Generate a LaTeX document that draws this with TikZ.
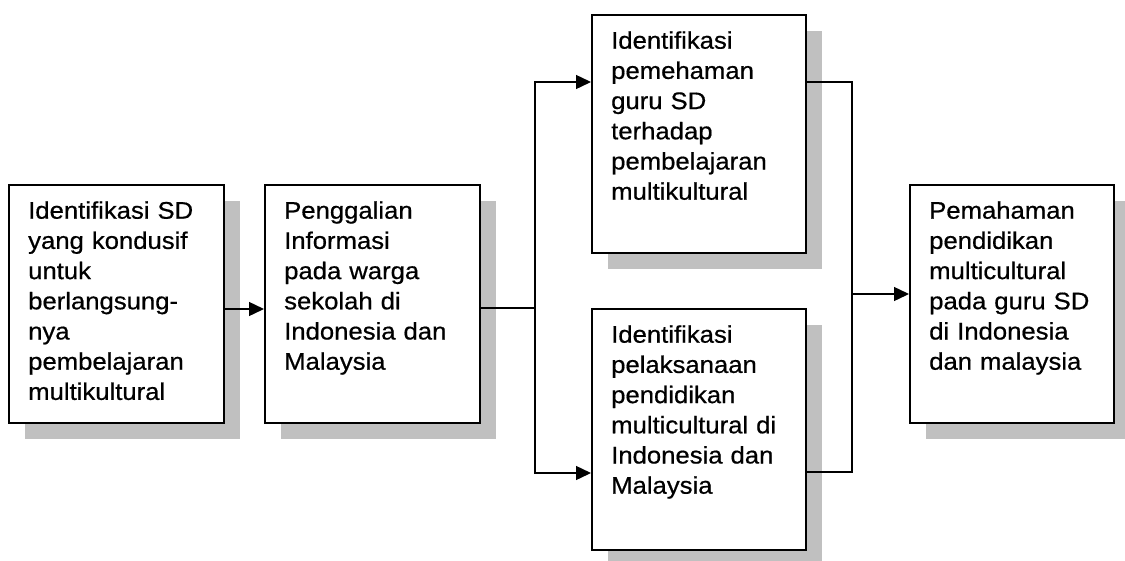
\documentclass[tikz,border=0pt]{standalone}
\usepackage{fontspec}
\setmainfont{Liberation Sans}[FakeStretch=1.07,FakeBold=0.6]
\usetikzlibrary{arrows.meta,shadows,calc}
\definecolor{shadowgray}{HTML}{C0C0C0}
\tikzset{
  box/.style={draw=black, line width=1.5pt, fill=white, rectangle, inner sep=0pt,
    anchor=north west,
    drop shadow={shadow xshift=16pt, shadow yshift=-16pt, opacity=1, fill=shadowgray}},
  boxtext/.style={anchor=north west, inner sep=0pt, align=left, text width=190pt,
    font=\fontsize{24}{30.2}\selectfont},
  conn/.style={line width=1.4pt, draw=black},
  arr/.style={conn, -{Triangle[length=15pt,width=14pt]}}
}
\newcommand{\fl}{\rule{0pt}{18.5pt}}
\begin{document}
\begin{tikzpicture}[x=1pt,y=-1pt]
\useasboundingbox (0,0) rectangle (1125,560);
% boxes
\node[box, minimum width=215pt, minimum height=238pt] (A) at (8,184) {};
\node[box, minimum width=215pt, minimum height=238pt] (B) at (264,184) {};
\node[box, minimum width=214pt, minimum height=238pt] (C) at (591,14) {};
\node[box, minimum width=214pt, minimum height=241pt] (D) at (591,308) {};
\node[box, minimum width=204pt, minimum height=238pt] (E) at (909,184) {};
% texts
\node[boxtext] (At) at ($(A.north west)+(20,16)$) {\fl Identifikasi SD\\yang kondusif\\untuk\\berlangsung-\\nya\\pembelajaran\\multikultural};
\node[boxtext] (Bt) at ($(B.north west)+(20,16)$) {\fl Penggalian\\Informasi\\pada warga\\sekolah di\\Indonesia dan\\Malaysia};
\node[boxtext] (Ct) at ($(C.north west)+(20,16)$) {\fl Identifikasi\\pemehaman\\guru SD\\terhadap\\pembelajaran\\multikultural};
\node[boxtext] (Dt) at ($(D.north west)+(20,16)$) {\fl Identifikasi\\pelaksanaan\\pendidikan\\multicultural di\\Indonesia dan\\Malaysia};
\node[boxtext] (Et) at ($(E.north west)+(20,16)$) {\fl Pemahaman\\pendidikan\\multicultural\\pada guru SD\\di Indonesia\\dan malaysia};
% connector points
\coordinate (ab) at (240,309);
\coordinate (s1) at (535,308);
\coordinate (ca) at (535,82);
\coordinate (da) at (535,473);
\coordinate (cb) at (852,82);
\coordinate (db) at (852,472);
\coordinate (s2) at (852,294);
% connectors
\draw[arr] (A.east |- ab) -- (B.west |- ab);
\draw[conn] (B.east |- s1) -- (s1);
\draw[arr] (s1) -- (ca) -- (C.west |- ca);
\draw[arr] (s1) -- (da) -- (D.west |- da);
\draw[conn] (C.east |- cb) -- (cb) -- (db) -- (D.east |- db);
\draw[arr] (s2) -- (E.west |- s2);
\end{tikzpicture}
\end{document}
